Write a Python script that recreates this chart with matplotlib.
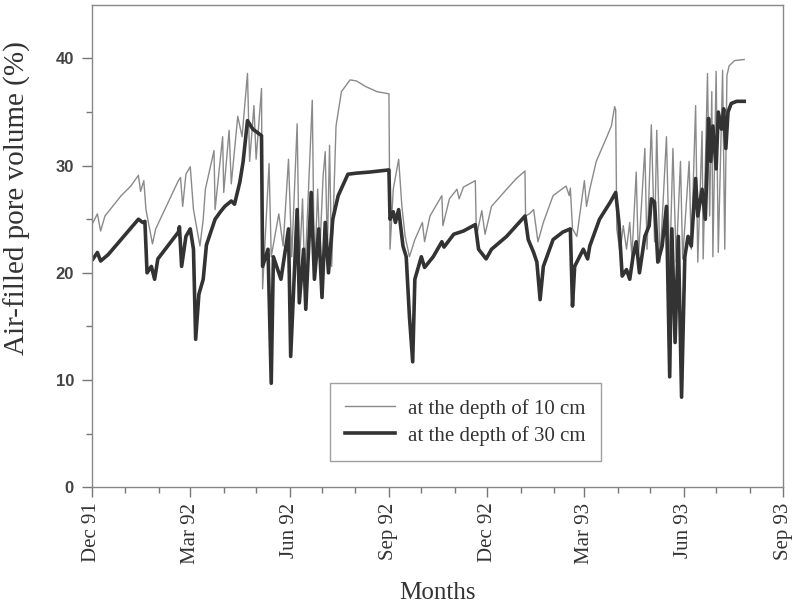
import matplotlib
matplotlib.use("Agg")
import matplotlib.pyplot as plt
import matplotlib.dates as mdates
import pandas as pd
import numpy as np

# days since 1 Dec 1991 and air-filled pore volume (%)
days_10 = [1, 5, 8, 12, 27, 36, 43, 45, 48, 50, 56, 59, 80, 82, 84, 87, 91, 94, 100, 103,
           105, 113, 114, 121, 122, 127, 129, 135, 139, 144, 146, 150, 152, 157, 158, 164, 166,
           173, 177, 182, 185, 190, 192, 195, 197, 204, 206, 209, 211, 214, 216, 218, 220, 222,
           226, 231, 239, 245, 253, 264, 275, 276, 279, 284, 287, 290, 294, 299, 306, 308, 313,
           324, 325, 331, 338, 340, 344, 355, 356, 361, 364, 370, 384, 393, 401, 401.5, 405,
           409, 413, 418, 427, 435, 439, 442, 443, 445, 449, 456, 458, 461, 467, 476, 481, 484,
           485, 486, 489, 492, 495, 498, 500, 504, 506, 512, 514, 518, 521, 523, 526, 532, 535,
           538, 541, 545, 547, 553, 555, 559, 561, 565, 566, 570, 572, 574, 575, 578, 580, 584,
           586, 588, 590, 595, 604]
vals_10 = [24.7, 25.5, 23.9, 25.3, 27.2, 28.1, 29.1, 27.6, 28.6, 25.9, 22.7, 24.1, 28.6, 28.9,
           26.2, 29.2, 29.9, 25.9, 22.5, 25.0, 27.8, 31.4, 25.9, 32.7, 27.5, 33.3, 28.3, 34.6,
           32.7, 38.6, 30.4, 35.6, 30.6, 37.2, 18.5, 30.2, 21.5, 25.5, 22.5, 30.6, 21.5, 33.9,
           20.6, 26.9, 19.4, 36.1, 19.4, 27.8, 22.0, 29.0, 31.3, 22.2, 31.9, 20.6, 33.7, 36.9,
           38.0, 37.9, 37.4, 36.9, 36.7, 22.2, 27.8, 30.6, 26.2, 23.4, 21.5, 23.1, 24.7, 22.9,
           25.3, 27.2, 24.4, 26.9, 27.8, 26.9, 28.0, 28.6, 23.4, 25.8, 23.6, 26.2, 27.8, 28.8,
           29.5, 25.3, 25.5, 25.9, 22.9, 24.7, 27.2, 27.8, 28.1, 27.2, 27.9, 24.1, 23.4, 28.6,
           26.2, 27.8, 30.4, 32.5, 33.7, 35.5, 35.2, 24.1, 21.9, 24.4, 22.2, 24.7, 21.5, 29.4,
           21.5, 31.6, 22.2, 33.8, 22.9, 33.3, 21.0, 32.7, 20.3, 31.6, 21.0, 30.4, 21.3, 30.4,
           22.2, 35.6, 21.0, 33.2, 21.3, 38.6, 25.3, 36.9, 21.5, 38.8, 21.9, 38.9, 22.2, 38.4,
           39.3, 39.8, 39.9]

days_30 = [1, 5, 8, 15, 43, 47, 49, 51, 55, 58, 61, 80, 81, 83, 87, 91, 94, 96, 99, 103, 106,
           114, 119, 123, 129, 132, 137, 140, 144, 149, 157, 158, 163, 166, 168, 172, 175, 182,
           184, 190, 192, 196, 198, 203, 206, 210, 213, 216, 219, 223, 228, 237, 245, 257, 275,
           276, 279, 281, 284, 288, 291, 294, 297, 299, 305, 308, 316, 324, 326, 335, 344, 355,
           358, 365, 370, 384, 393, 401, 404, 409, 412, 415, 418, 427, 436, 443, 445, 447, 455,
           459, 461, 470, 480, 485, 488, 491, 495, 498, 501, 504, 507, 512, 516, 518, 521, 524,
           528, 532, 535, 537, 540, 543, 546, 549, 552, 555, 559, 561, 565, 568, 571, 573, 575,
           578, 580, 583, 585, 587, 589, 592, 597, 604]
vals_30 = [21.3, 21.9, 21.1, 21.7, 25.0, 24.7, 24.8, 20.0, 20.6, 19.4, 21.3, 23.8, 24.3, 20.6,
           23.4, 24.1, 22.2, 13.8, 18.0, 19.4, 22.6, 25.0, 25.7, 26.2, 26.7, 26.4, 28.5, 30.4,
           34.2, 33.4, 32.8, 20.6, 22.2, 9.7, 21.5, 20.3, 19.4, 24.1, 12.2, 25.9, 17.2, 22.2,
           16.6, 27.5, 19.4, 24.1, 17.7, 24.7, 20.0, 25.0, 27.2, 29.2, 29.3, 29.4, 29.6, 25.0,
           25.7, 24.7, 25.9, 22.5, 21.5, 15.9, 11.7, 19.4, 21.5, 20.5, 21.5, 22.9, 22.4, 23.6,
           23.9, 24.5, 22.2, 21.3, 22.2, 23.4, 24.4, 25.3, 23.1, 21.9, 21.0, 17.5, 20.6, 23.1,
           23.8, 24.1, 16.9, 20.6, 22.2, 21.3, 22.5, 25.0, 26.6, 27.5, 24.7, 19.7, 20.3, 19.4,
           21.5, 22.9, 20.0, 23.4, 24.4, 26.9, 26.6, 21.0, 22.5, 26.2, 10.3, 24.1, 13.5, 23.4,
           8.4, 21.5, 23.4, 22.5, 28.8, 25.3, 27.8, 25.0, 34.4, 30.4, 33.7, 29.7, 35.0, 33.4,
           35.3, 31.6, 35.0, 35.8, 36.0, 36.0]

labels = ["at the depth of 10 cm", "at the depth of 30 cm"]
start = pd.Timestamp("1991-12-01")
end = pd.Timestamp("1993-09-01")

t10 = start + pd.to_timedelta(days_10, unit="D")
t30 = start + pd.to_timedelta(days_30, unit="D")

serif = ["Liberation Serif", "DejaVu Serif"]

fig = plt.figure(figsize=(7.95, 6.06), dpi=100)
ax = fig.add_axes([0.1157, 0.196, 0.985 - 0.1157, 0.992 - 0.196])

ax.plot(t10, vals_10, color="#8a8a8a", lw=1.0, label=labels[0])
ax.plot(t30, vals_30, color="#333333", lw=2.6, label=labels[1])

ax.set_xlim(start, end)
ax.set_ylim(0, 45)

ax.xaxis.set_major_locator(mdates.MonthLocator(bymonth=[3, 6, 9, 12]))
ax.xaxis.set_minor_locator(mdates.MonthLocator())
ax.xaxis.set_major_formatter(mdates.DateFormatter("%b %y"))
ax.set_yticks([0, 10, 20, 30, 40])
ax.set_yticks([5, 15, 25, 35], minor=True)

for lab in ax.get_xticklabels():
    lab.set_rotation(90)
    lab.set_fontfamily(serif)
    lab.set_fontsize(15)
    lab.set_color("#333333")
for lab in ax.get_yticklabels():
    lab.set_fontfamily(["Liberation Sans", "DejaVu Sans"])
    lab.set_fontweight("bold")
    lab.set_fontsize(12)
    lab.set_color("#444444")

ax.tick_params(axis="both", which="major", direction="out", length=7, width=1, color="#777777")
ax.tick_params(axis="both", which="minor", direction="out", length=4, width=1, color="#777777")
ax.tick_params(axis="x", pad=4)
ax.tick_params(axis="y", pad=6)

for s in ax.spines.values():
    s.set_color("#888888")
    s.set_linewidth(1.0)

ax.set_ylabel("Air-filled pore volume (%)", fontfamily=serif, fontsize=21, color="#333333")
ax.yaxis.set_label_coords(-0.088, 0.6)
ax.set_xlabel("Months", fontfamily=serif, fontsize=18, color="#333333", labelpad=13)

leg = ax.legend(loc="upper left", bbox_to_anchor=(0.344, 0.216), frameon=True, fancybox=False,
                prop={"family": serif, "size": 15}, handlelength=2.4, borderpad=0.75,
                labelspacing=0.35, handletextpad=0.6, borderaxespad=0)
leg.get_frame().set_edgecolor("#888888")
leg.get_frame().set_linewidth(1.0)
for txt in leg.get_texts():
    txt.set_color("#333333")

fig.savefig("out.png", dpi=100)
